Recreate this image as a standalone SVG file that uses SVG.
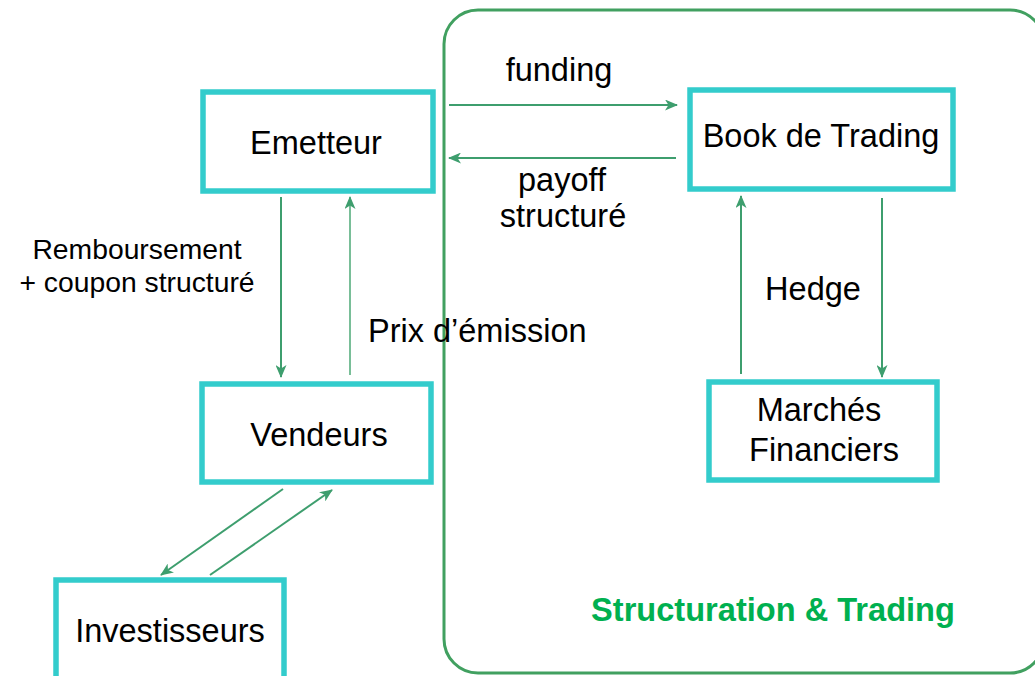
<svg xmlns="http://www.w3.org/2000/svg" width="1035" height="676" viewBox="0 0 1035 676">
<style>
.box{fill:#fff;stroke:#33CCCC;stroke-width:5.5}
.lbl{font-family:"Liberation Sans",Arial,sans-serif;font-size:32.5px;fill:#000;text-anchor:middle}
.sm{font-size:28.3px}
.arr{stroke:#3E9E6E;stroke-width:2;fill:none;marker-end:url(#ah)}
.light{stroke:#79BE98}
</style>
<defs>
<marker id="ah" markerUnits="userSpaceOnUse" markerWidth="13" markerHeight="11" refX="12" refY="5.5" orient="auto" viewBox="0 0 13 11">
<path d="M0,0 L13,5.5 L0,11 L3.5,5.5 z" fill="#3E9E6E"/>
</marker>
</defs>
<rect width="1035" height="676" fill="#fff"/>
<g id="container">
<rect x="444" y="10" width="600" height="663" rx="34" ry="34" fill="none" stroke="#41A060" stroke-width="3"/>
<text x="773" y="621" font-family="'Liberation Sans',Arial,sans-serif" font-size="32.6" font-weight="bold" fill="#00B050" text-anchor="middle">Structuration &amp; Trading</text>
</g>
<g id="connectors">
<line class="arr" x1="449" y1="105" x2="677" y2="105"/>
<line class="arr" x1="676" y1="158" x2="449" y2="158"/>
<line class="arr" x1="281" y1="197" x2="281" y2="377"/>
<line class="arr light" x1="350" y1="375" x2="350" y2="197"/>
<line class="arr" x1="741" y1="374" x2="741" y2="196"/>
<line class="arr" x1="882" y1="198" x2="882" y2="377"/>
<line class="arr" x1="283" y1="489" x2="161" y2="575"/>
<line class="arr" x1="210" y1="575" x2="332" y2="490"/>
<text class="lbl" x="559" y="81">funding</text>
<text class="lbl" x="562" y="191">payoff</text>
<text class="lbl" x="563" y="227">structuré</text>
<text class="lbl sm" x="137" y="259">Remboursement</text>
<text class="lbl sm" x="137" y="292">+ coupon structuré</text>
<text class="lbl" x="368" y="342" style="text-anchor:start">Prix d’émission</text>
<text class="lbl" x="813" y="300">Hedge</text>
</g>
<g id="emetteur">
<rect class="box" x="203" y="92" width="230" height="99"/>
<text class="lbl" x="316" y="154">Emetteur</text>
</g>
<g id="book">
<rect class="box" x="690" y="90" width="263" height="99"/>
<text class="lbl" x="821" y="147">Book de Trading</text>
</g>
<g id="vendeurs">
<rect class="box" x="202" y="384" width="229" height="98"/>
<text class="lbl" x="319" y="446">Vendeurs</text>
</g>
<g id="marches">
<rect class="box" x="709" y="382" width="228" height="98"/>
<text class="lbl" x="819" y="421">Marchés</text>
<text class="lbl" x="824" y="461">Financiers</text>
</g>
<g id="investisseurs">
<rect class="box" x="56" y="580" width="228" height="120"/>
<text class="lbl" x="170" y="642">Investisseurs</text>
</g>
</svg>
